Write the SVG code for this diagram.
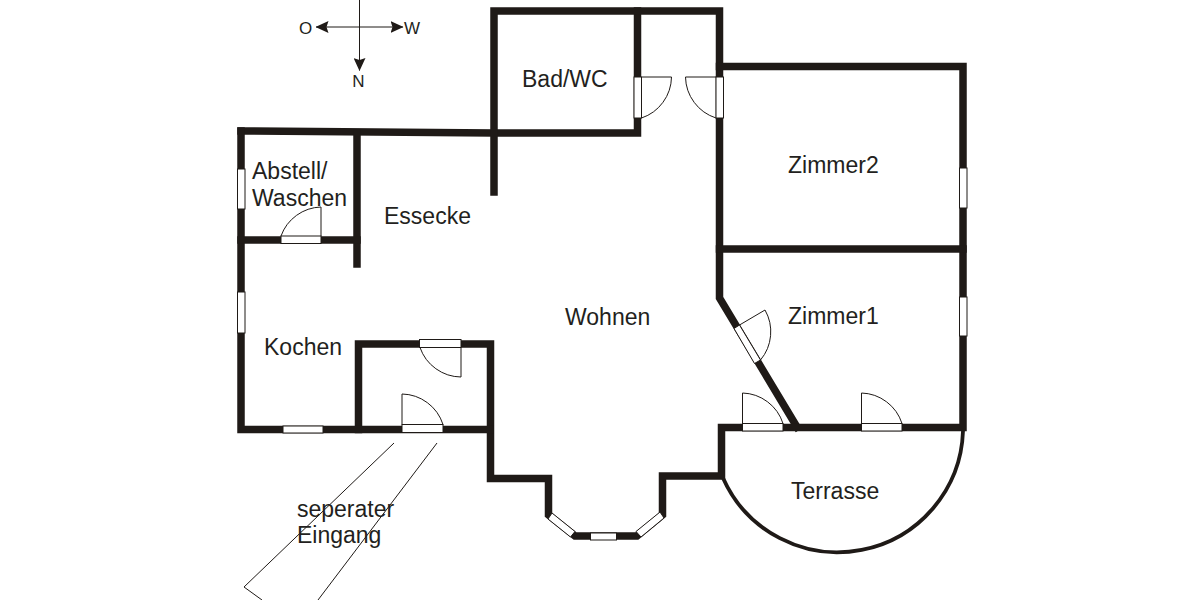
<svg xmlns="http://www.w3.org/2000/svg" width="1200" height="600" viewBox="0 0 1200 600">
<defs>
<style>
.wall{fill:none;stroke:#1f1a17;stroke-width:7.5;stroke-linecap:square;stroke-linejoin:miter}
.win{fill:#fff;stroke:#1f1a17;stroke-width:1}
.door{fill:none;stroke:#1f1a17;stroke-width:1}
.thin{fill:none;stroke:#1f1a17;stroke-width:1}
.lab{font-family:"Liberation Sans",Arial,sans-serif;font-size:23px;fill:#231f20}
.cmp{font-family:"Liberation Sans",Arial,sans-serif;font-size:17px;fill:#231f20;text-anchor:middle}
</style>
<marker id="ah" viewBox="0 0 13 12" refX="12.5" refY="6" markerWidth="13" markerHeight="12" markerUnits="userSpaceOnUse" orient="auto"><path d="M0 0L13 6L0 12L2 6Z" fill="#1f1a17"/></marker>
</defs>
<rect width="1200" height="600" fill="#fff"/>
<g id="compass">
<path class="thin" d="M359.500 0V70.500" marker-end="url(#ah)"/>
<path class="thin" d="M360 27H403" marker-end="url(#ah)"/>
<path class="thin" d="M360 27H316" marker-end="url(#ah)"/>
<text class="cmp" x="305.500" y="33.500">O</text>
<text class="cmp" x="412" y="33.500">W</text>
<text class="cmp" x="358.500" y="87">N</text>
</g>
<g id="walls">
<path class="wall" d="M241 131L494 133H637.500V11"/>
<path class="wall" d="M494 192V11H719.500V298L797 427"/>
<path class="wall" d="M719.500 66.500H963V427.500H721.500V476H662.500V515L637 536H575L548.500 515V478.500H490.500V344H358.500V429.500"/>
<path class="wall" d="M241 131V429.500H490"/>
<path class="wall" d="M357 133V264"/>
<path class="wall" d="M241 240H357"/>
<path class="wall" d="M719.500 249H963"/>
</g>
<path id="terrace" d="M963 431A125.500 125.500 0 0 1 723 478" fill="none" stroke="#1f1a17" stroke-width="3.800"/>
<g id="windows">
<rect class="win" x="237.500" y="169" width="7.500" height="40"/>
<rect class="win" x="237.500" y="292" width="7.500" height="41"/>
<rect class="win" x="283" y="426" width="40" height="7"/>
<rect class="win" x="959.500" y="168" width="7.500" height="40"/>
<rect class="win" x="959.500" y="297" width="7.500" height="39"/>
<rect class="win" x="590.500" y="533" width="26" height="7" stroke="none"/>
<polygon class="win" points="552,513 575,531.500 570.500,537 548,519"/>
<polygon class="win" points="636,531.500 660,512 664,518 641,537"/>
</g>
<g id="doors">
<rect class="win" x="281" y="236" width="40" height="7.500"/>
<path class="door" d="M321 236V207A44 44 0 0 0 281 236"/>
<rect class="win" x="402" y="424.500" width="41" height="8"/>
<path class="door" d="M402 424.500V394A44 44 0 0 1 443 424.500"/>
<rect class="win" x="419.500" y="339.500" width="41.500" height="8"/>
<path class="door" d="M461 347.500V377A44 44 0 0 1 420 347.500"/>
<rect class="win" x="634" y="77" width="7.500" height="41"/>
<path class="door" d="M641.500 77H671.500A44 44 0 0 1 641.500 118"/>
<rect class="win" x="716" y="77" width="7.500" height="41"/>
<path class="door" d="M716 77H685.500A44 44 0 0 0 716 118"/>
<rect class="win" x="742.500" y="423.500" width="40.500" height="7.500"/>
<path class="door" d="M742.500 423.500V393A44 44 0 0 1 783 423.500"/>
<rect class="win" x="861.500" y="423.500" width="40.500" height="7.500"/>
<path class="door" d="M861.500 423.500V393A44 44 0 0 1 902 423.500"/>
<polygon class="win" points="734,328.500 739.500,325 760.500,360 754.500,363.500"/>
<path class="door" d="M739.500 325L765 310A44 44 0 0 1 760.500 360"/>
</g>
<path id="path" class="thin" d="M394 443L244 587L262 600M437 443L318 600"/>
<g id="labels">
<text class="lab" x="522" y="87">Bad/WC</text>
<text class="lab" x="788" y="173">Zimmer2</text>
<text class="lab" x="788" y="324">Zimmer1</text>
<text class="lab" x="384" y="223.500">Essecke</text>
<text class="lab" x="565" y="325">Wohnen</text>
<text class="lab" x="264" y="355">Kochen</text>
<text class="lab" x="791" y="498.500">Terrasse</text>
<text class="lab" x="252" y="179">Abstell/</text>
<text class="lab" x="252" y="205.500">Waschen</text>
<text class="lab" x="297" y="516.500">seperater</text>
<text class="lab" x="297" y="543">Eingang</text>
</g>
</svg>
